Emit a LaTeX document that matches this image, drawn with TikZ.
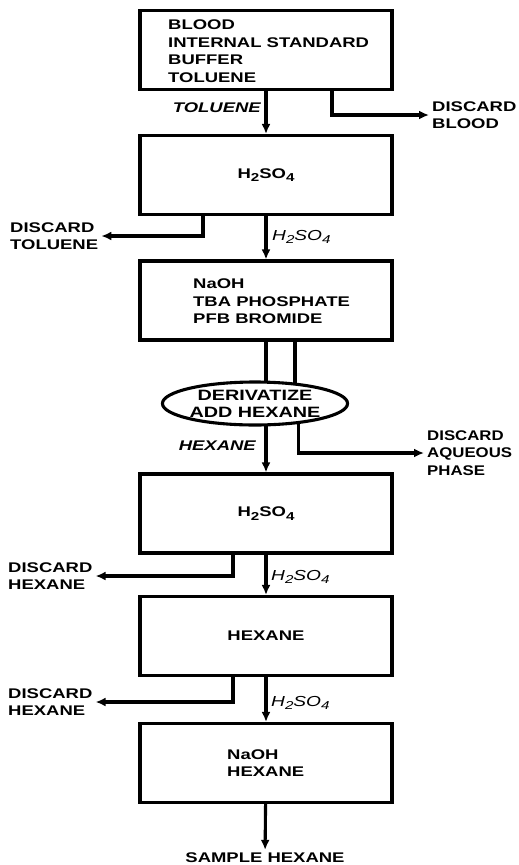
\documentclass[tikz,border=0pt]{standalone}
\usepackage{fontspec}
\setmainfont{Liberation Sans}[FakeStretch=1.32]
\newfontfamily\narrowfont{Liberation Sans}[FakeStretch=1.2]
\usetikzlibrary{shapes.geometric,arrows.meta}
\newcommand{\subs}[1]{\raisebox{-0.45ex}{\fontsize{11.5}{11.5}\selectfont #1}}
\begin{document}
\begin{tikzpicture}[x=1pt,y=-1pt,
  box/.style={draw,line width=3.1pt,minimum width=252pt,minimum height=79pt,inner sep=0pt,
    font=\bfseries\fontsize{14}{17.5}\selectfont},
  txt/.style={font=\bfseries\fontsize{14}{17.5}\selectfont,align=left,inner sep=3pt},
  lab/.style={font=\bfseries\itshape\fontsize{14}{17}\selectfont,inner sep=0pt},
  hlab/.style={font=\itshape\fontsize{14.5}{17}\selectfont,inner sep=0pt},
  ln/.style={line width=3.1pt},
  arr/.style={line width=3.1pt,-{Latex[length=10pt,width=9pt]}}]
\useasboundingbox (0,0) rectangle (519,865);

% boxes
\node[box] (b1) at (266,50) {};
\node[txt,anchor=west] (t1) at (165,51) {BLOOD\\INTERNAL STANDARD\\BUFFER\\TOLUENE};
\node[box] (b2) at (266,175) {H\subs{2}SO\subs{4}};
\node[box] (b3) at (266,300.5) {};
\node[txt,anchor=west] (t3) at (190,301.5) {NaOH\\TBA PHOSPHATE\\PFB BROMIDE};
\node[draw,ellipse,line width=3.1pt,minimum width=156pt,minimum height=43pt,inner sep=0pt,
  align=center,font=\bfseries\fontsize{15}{17}\selectfont] (ell) at (255,403.5) {DERIVATIZE\\ADD HEXANE};
\node[box] (b4) at (266,513.5) {H\subs{2}SO\subs{4}};
\node[box] (b5) at (266,636) {HEXANE};
\node[box] (b6) at (266,763) {};
\node[txt,anchor=west] (t6) at (224,763) {NaOH\\HEXANE};

% side texts
\node[txt,anchor=west] (dblood) at (429,115) {DISCARD\\BLOOD};
\node[txt,anchor=west] (dtol) at (7,236) {DISCARD\\TOLUENE};
\node[txt,anchor=west,font=\narrowfont\bfseries\fontsize{14}{17.5}\selectfont] (daq) at (424,453) {DISCARD\\AQUEOUS\\PHASE};
\node[txt,anchor=west] (dhex1) at (5,576) {DISCARD\\HEXANE};
\node[txt,anchor=west] (dhex2) at (5,702) {DISCARD\\HEXANE};
\node[txt] (sample) at (265,858) {SAMPLE HEXANE};

% arrow labels
\node[lab,anchor=east] (ltol) at (261,108) {TOLUENE};
\node[hlab,anchor=west] (lh1) at (272,237) {H\subs{2}SO\subs{4}};
\node[lab,anchor=east] (lhex) at (256,446) {HEXANE};
\node[hlab,anchor=west] (lh2) at (271,577) {H\subs{2}SO\subs{4}};
\node[hlab,anchor=west] (lh3) at (271,703) {H\subs{2}SO\subs{4}};

% connectors
\draw[arr] (b1) -- (b2);
\draw[arr] ([xshift=66pt]b1.south) |- (dblood.west);
\draw[arr] ([xshift=-63pt]b2.south) |- (dtol.east);
\draw[arr] (b2) -- (b3);
\coordinate (r3) at ([xshift=29pt]b3.south);
\draw[ln] (b3.south) -- (ell.65 -| b3.south);
\draw[ln] (r3) -- (ell.25 -| r3);
\draw[arr] (ell.-65 -| b4.north) -- (b4.north);
\draw[arr] (ell.-25) |- (daq.west);
\draw[arr] ([xshift=-33pt]b4.south) |- (dhex1.east);
\draw[arr] (b4) -- (b5);
\draw[arr] ([xshift=-33pt]b5.south) |- (dhex2.east);
\draw[arr] (b5) -- (b6);
\draw[arr] (b6) -- (sample);
\end{tikzpicture}
\end{document}
